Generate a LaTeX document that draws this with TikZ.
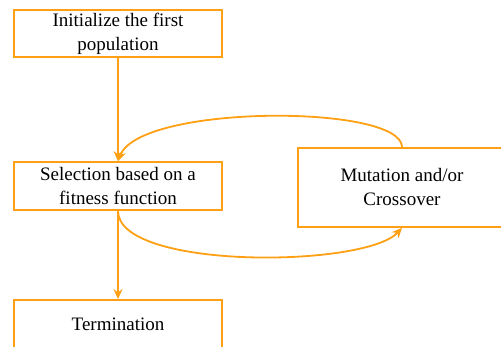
\documentclass[tikz,border=0pt]{standalone}
\usepackage{fontspec}
\setmainfont{Liberation Serif}
\usepackage{xcolor}
\usetikzlibrary{arrows.meta}
\definecolor{flow-orange}{RGB}{255,160,20}
\tikzset{
    flow-box/.style = {draw=flow-orange, fill=white, line width=1.8pt, rectangle, align=center, inner sep=0pt, font=\fontsize{19}{24}\selectfont},
    flow-arrow/.style = {draw=flow-orange, line width=1.8pt, -{Stealth[length=10pt,width=9pt]}},
}
\begin{document}
\begin{tikzpicture}[x=1pt,y=-1pt]
\useasboundingbox (0,0) rectangle (501,347);
\node [flow-box, minimum width=208pt, minimum height=47pt] (init) at (118,33.5) {Initialize the first\\population};
\node [flow-box, minimum width=208pt, minimum height=48pt] (select) at (118,186) {Selection based on a\\fitness function};
\node [flow-box, minimum width=208pt, minimum height=79pt] (mutate) at (402,187.5) {Mutation and/or\\Crossover};
\node [flow-box, minimum width=208pt, minimum height=48pt] (stop) at (118,324) {Termination};
% main flow
\draw [flow-arrow] (init.south) -- (select.north);
\draw [flow-arrow] (select.south) -- (stop.north);
% loop between selection and mutation
\draw [flow-arrow] (mutate.north) .. controls (402,104) and (140,104) .. (select.north);
\draw [flow-arrow] (select.south) .. controls (118,270) and (365,268) .. (mutate.south);
\end{tikzpicture}
\end{document}
